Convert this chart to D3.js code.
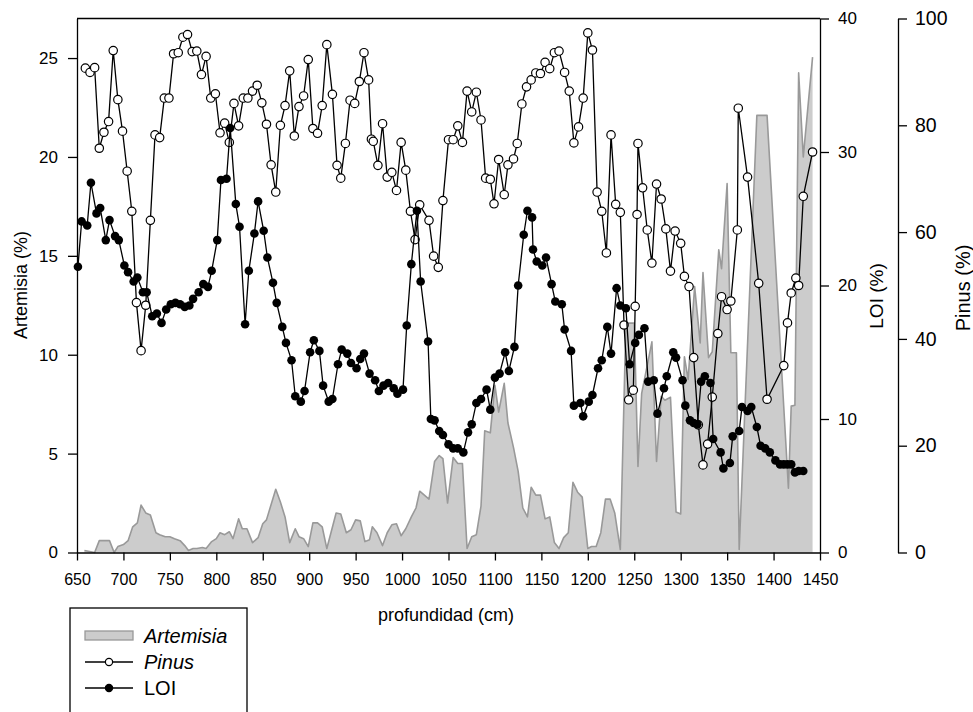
<!DOCTYPE html>
<html>
<head>
<meta charset="utf-8">
<style>
  body { margin: 0; background: #fff; }
  svg { display: block; font-family: "Liberation Sans", Arial, sans-serif; }
</style>
<script src="https://cdn.jsdelivr.net/npm/d3@7"></script>
</head>
<body>
<script>
// depth (cm) and Artemisia %, grey area
const artDepth = [658,669,674,685,690,694,700,705,710,715,719,724,729,735,739,745,750,755,761,766,770,775,779,785,789,795,800,804,809,814,818,824,828,833,839,845,850,854,864,869,874,879,885,889,894,899,904,909,914,919,929,934,940,945,950,955,960,965,968,973,979,984,989,994,999,1004,1010,1015,1019,1029,1035,1040,1044,1049,1055,1060,1065,1070,1075,1080,1085,1089,1095,1100,1104,1110,1114,1120,1125,1130,1135,1139,1144,1149,1154,1159,1164,1169,1174,1179,1184,1189,1194,1200,1204,1209,1214,1219,1224,1229,1235,1241,1250,1254,1258,1269,1274,1279,1283,1289,1295,1300,1304,1308,1315,1321,1324,1330,1334,1341,1344,1350,1354,1360,1363,1382,1393,1416,1419,1423,1427,1432,1442];
const artVal = [0.1,0,0.6,0.6,0,0.3,0.4,0.6,1.3,1.5,2.4,2.0,1.9,1.0,0.9,0.8,0.8,0.7,0.6,0.35,0.1,0.2,0.2,0.25,0.2,0.55,0.7,1.0,0.9,1.05,0.7,1.7,1.2,1.2,0.5,0.75,1.45,1.65,3.2,2.55,1.8,0.5,1.2,0.8,0.7,0.3,1.5,1.5,1.3,0.2,2.0,1.95,1.0,1.15,1.65,1.6,0.55,0.65,1.3,1.0,0.35,1.0,1.4,1.45,0.85,1.2,1.8,2.25,3.1,2.7,4.6,4.9,4.75,2.5,4.8,4.5,4.5,0.2,0.8,0.9,2.35,6.15,6.05,8.45,7.1,8.55,6.55,5.3,4.1,2.25,1.8,3.3,2.9,2.9,1.7,1.8,0.5,0.2,0.75,1.0,3.55,3.05,2.8,0.2,0.3,0.3,1.0,2.7,2.7,2.0,0.15,11.6,11.6,4.35,8.05,10.65,4.6,7.9,7.7,7.85,2.05,1.95,9.9,8.75,13.45,10.6,14.15,9.85,10.15,15.3,14.35,18.65,10.1,10.1,0.15,22.1,22.1,3.25,7.4,7.45,24.25,20.0,25.05];

// Pinus %, open circles
const pinDepth = [659,664,669,674,679,684,689,694,699,704,709,714,719,724,729,734,739,744,749,754,759,764,769,774,779,784,789,794,799,804,809,814,819,824,829,834,839,844,849,854,859,864,869,874,879,884,889,894,899,904,909,914,919,925,930,934,939,944,949,954,959,964,967,969,974,979,984,989,994,999,1004,1009,1014,1019,1029,1034,1039,1044,1050,1055,1060,1065,1070,1075,1080,1085,1090,1095,1099,1104,1110,1114,1120,1124,1129,1134,1139,1144,1149,1154,1159,1164,1169,1175,1180,1185,1190,1195,1200,1205,1210,1215,1220,1225,1230,1235,1239,1244,1249,1251,1253,1254,1259,1264,1269,1274,1279,1284,1289,1294,1300,1304,1309,1314,1319,1324,1329,1334,1340,1344,1350,1354,1361,1362,1372,1384,1393,1411,1415,1419,1424,1427,1432,1442];
const pinVal = [90.7,89.9,90.8,75.7,78.7,80.7,94.0,84.8,78.9,71.4,63.9,46.8,37.8,46.3,62.2,78.2,77.7,85.1,85.1,93.4,93.6,96.5,97.0,93.8,93.9,89.5,92.9,85.1,85.9,78.6,80.4,76.8,84.1,79.9,85.1,85.1,86.4,87.5,84.2,80.2,72.6,67.5,80.0,83.7,90.2,78.0,83.5,85.5,92.3,79.4,78.5,83.7,95.1,85.8,72.5,70.1,76.6,84.7,84.1,88.2,93.6,88.5,77.4,77.0,72.5,80.3,70.3,71.2,67.8,76.8,71.6,63.9,58.6,65.1,62.2,55.5,53.4,65.9,77.3,77.3,79.9,76.8,86.4,82.5,86.2,81.0,70.1,69.9,65.3,73.6,67.0,72.6,73.7,76.6,84.0,87.2,88.5,89.8,89.7,91.8,90.6,93.6,93.9,89.9,86.4,76.7,79.7,85.1,97.3,94.1,67.5,63.9,56.1,78.2,65.2,63.7,42.6,28.6,30.4,46.1,63.3,76.6,68.3,60.4,54.2,69.0,66.2,60.6,52.7,60.2,57.9,51.7,49.8,36.5,23.9,16.4,20.3,29.1,41.0,47.9,45.5,47.1,60.4,83.2,70.3,50.4,28.7,35.0,43.0,48.6,51.4,50.0,66.7,75.0];

// LOI %, filled circles
const loiDepth = [651,655,661,665,671,675,681,685,691,695,701,705,711,715,721,725,731,736,741,746,751,756,761,766,771,775,781,786,791,795,801,805,811,815,821,825,831,835,841,845,851,855,861,865,871,875,881,885,891,895,901,905,911,915,921,925,931,935,941,945,951,955,959,965,971,975,980,985,991,995,1001,1005,1010,1016,1020,1028,1031,1035,1040,1044,1050,1055,1060,1066,1071,1075,1080,1085,1091,1095,1100,1105,1111,1115,1121,1125,1131,1135,1140,1141,1145,1151,1155,1161,1165,1172,1175,1182,1185,1192,1195,1201,1205,1211,1215,1221,1225,1231,1235,1241,1245,1251,1255,1261,1265,1271,1275,1282,1285,1292,1295,1302,1305,1310,1314,1318,1322,1326,1332,1335,1343,1346,1353,1356,1363,1366,1372,1376,1382,1386,1391,1396,1402,1407,1411,1415,1419,1423,1427,1432];
const loiVal = [21.4,24.8,24.5,27.7,25.4,25.8,23.4,24.9,23.7,23.4,21.5,21.0,20.3,20.6,19.5,19.5,17.7,17.9,17.2,18.2,18.6,18.7,18.6,18.4,18.5,19.0,19.5,20.1,19.9,21.1,23.4,27.9,28.0,31.8,26.1,24.4,17.1,21.1,23.9,26.3,24.1,22.1,20.2,18.7,16.9,15.7,14.4,11.7,11.3,12.1,15.0,15.9,15.1,12.5,11.3,11.5,14.1,15.2,14.9,14.2,13.8,14.5,14.9,13.4,12.9,12.1,12.5,12.7,12.3,11.9,12.2,17.0,21.6,25.6,20.3,15.8,10.0,9.9,9.1,8.8,8.1,7.8,7.8,7.5,9.0,9.6,11.2,11.5,12.2,10.7,13.1,13.4,15.0,13.6,15.4,20.0,23.8,25.6,25.1,22.7,21.8,21.5,22.1,20.1,18.8,18.6,16.7,15.1,11.0,11.2,10.2,11.3,11.8,13.8,14.4,16.9,14.9,19.8,18.5,18.3,14.1,15.7,16.3,16.8,12.8,12.9,10.4,12.3,13.2,15.0,14.6,12.9,11.0,9.9,9.7,9.6,12.8,13.2,12.7,8.5,7.5,6.3,6.7,8.7,9.1,10.9,10.6,10.9,9.4,8.0,7.8,7.5,6.9,6.6,6.6,6.6,6.6,6.0,6.1,6.1];

const xTicks = [650,700,750,800,850,900,950,1000,1050,1100,1150,1200,1250,1300,1350,1400,1450];
const artTicks = [0,5,10,15,20,25];
const loiTicks = [0,10,20,30,40];
const pinTicks = [0,20,40,60,80,100];

const W = 973, H = 712;
const plotL = 77, plotR = 820, plotT = 18.5, plotB = 552.5;

const svg = d3.select("body").append("svg")
    .attr("width", W).attr("height", H);

const x = d3.scaleLinear().domain([650, 1450]).range([plotL, plotR]);
const yArt = d3.scaleLinear().domain([0, 27]).range([plotB, plotT]);
const yLoi = d3.scaleLinear().domain([0, 40]).range([plotB, plotT]);
const yPin = d3.scaleLinear().domain([0, 100]).range([plotB, plotT]);

// Artemisia area
const artData = artDepth.map((d, i) => [d, artVal[i]]);
svg.append("path")
    .datum(artData)
    .attr("fill", "#cccccc")
    .attr("d", d3.area().x(d => x(d[0])).y0(plotB).y1(d => yArt(d[1])));
svg.append("path")
    .datum(artData)
    .attr("fill", "none")
    .attr("stroke", "#999999")
    .attr("stroke-width", 1.6)
    .attr("stroke-linejoin", "round")
    .attr("d", d3.line().x(d => x(d[0])).y(d => yArt(d[1])));

// Pinus
const pinData = pinDepth.map((d, i) => [d, pinVal[i]]);
svg.append("path")
    .datum(pinData)
    .attr("fill", "none")
    .attr("stroke", "#000")
    .attr("stroke-width", 1.3)
    .attr("d", d3.line().x(d => x(d[0])).y(d => yPin(d[1])));
svg.selectAll("circle.pin")
    .data(pinData)
    .enter().append("circle")
    .attr("class", "pin")
    .attr("cx", d => x(d[0]))
    .attr("cy", d => yPin(d[1]))
    .attr("r", 4.2)
    .attr("fill", "#fff")
    .attr("stroke", "#000")
    .attr("stroke-width", 1.2);

// LOI
const loiData = loiDepth.map((d, i) => [d, loiVal[i]]);
svg.append("path")
    .datum(loiData)
    .attr("fill", "none")
    .attr("stroke", "#000")
    .attr("stroke-width", 1.3)
    .attr("d", d3.line().x(d => x(d[0])).y(d => yLoi(d[1])));
svg.selectAll("circle.loi")
    .data(loiData)
    .enter().append("circle")
    .attr("class", "loi")
    .attr("cx", d => x(d[0]))
    .attr("cy", d => yLoi(d[1]))
    .attr("r", 4.3)
    .attr("fill", "#000");

// axes
function styleAxis(g, size) {
    g.selectAll("path, line").attr("stroke", "#000").attr("stroke-width", 1.3);
    g.selectAll("text").attr("fill", "#000").attr("font-size", size).attr("font-family", "Liberation Sans, Arial, sans-serif");
}

svg.append("g")
    .attr("transform", `translate(0,${plotB})`)
    .call(d3.axisBottom(x).tickValues(xTicks).tickSize(8).tickSizeOuter(0).tickPadding(13).tickFormat(d3.format("d")))
    .call(g => styleAxis(g, 16));

svg.append("g")
    .attr("transform", `translate(${plotL},0)`)
    .call(d3.axisLeft(yArt).tickValues(artTicks).tickSize(9).tickSizeOuter(0).tickPadding(10))
    .call(g => styleAxis(g, 17));

svg.append("g")
    .attr("transform", `translate(${plotR},0)`)
    .call(d3.axisRight(yLoi).tickValues(loiTicks).tickSize(9).tickSizeOuter(0).tickPadding(9))
    .call(g => styleAxis(g, 17));

svg.append("g")
    .attr("transform", "translate(898,0)")
    .call(d3.axisRight(yPin).tickValues(pinTicks).tickSize(9).tickSizeOuter(0).tickPadding(8))
    .call(g => styleAxis(g, 19.5));

// top border
svg.append("line")
    .attr("x1", plotL).attr("x2", plotR).attr("y1", plotT).attr("y2", plotT)
    .attr("stroke", "#000").attr("stroke-width", 1.3);

// axis titles
svg.append("text")
    .attr("transform", "translate(27,285) rotate(-90)")
    .attr("text-anchor", "middle").attr("font-size", 18)
    .text("Artemisia (%)");
svg.append("text")
    .attr("transform", "translate(883,296) rotate(-90)")
    .attr("text-anchor", "middle").attr("font-size", 19)
    .text("LOI (%)");
svg.append("text")
    .attr("transform", "translate(970,288) rotate(-90)")
    .attr("text-anchor", "middle").attr("font-size", 20)
    .text("Pinus (%)");
svg.append("text")
    .attr("x", 446).attr("y", 621)
    .attr("text-anchor", "middle").attr("font-size", 18)
    .text("profundidad (cm)");

// legend
const leg = svg.append("g");
leg.append("rect")
    .attr("x", 70).attr("y", 608).attr("width", 177).attr("height", 130)
    .attr("fill", "#fff").attr("stroke", "#000").attr("stroke-width", 1.3);
leg.append("rect")
    .attr("x", 85).attr("y", 631).attr("width", 48).attr("height", 9)
    .attr("fill", "#cccccc").attr("stroke", "#999999").attr("stroke-width", 1.3);
[[662, "#fff"], [688, "#000"]].forEach(([yy, fill]) => {
    leg.append("line").attr("x1", 85).attr("x2", 133).attr("y1", yy).attr("y2", yy)
        .attr("stroke", "#000").attr("stroke-width", 1.3);
    leg.append("circle").attr("cx", 109).attr("cy", yy).attr("r", 3.6)
        .attr("fill", fill).attr("stroke", "#000").attr("stroke-width", 1.2);
});
leg.append("text").attr("x", 144).attr("y", 643).attr("font-size", 20).attr("font-style", "italic").text("Artemisia");
leg.append("text").attr("x", 144).attr("y", 669).attr("font-size", 20).attr("font-style", "italic").text("Pinus");
leg.append("text").attr("x", 144).attr("y", 695).attr("font-size", 20).text("LOI");
</script>
</body>
</html>
